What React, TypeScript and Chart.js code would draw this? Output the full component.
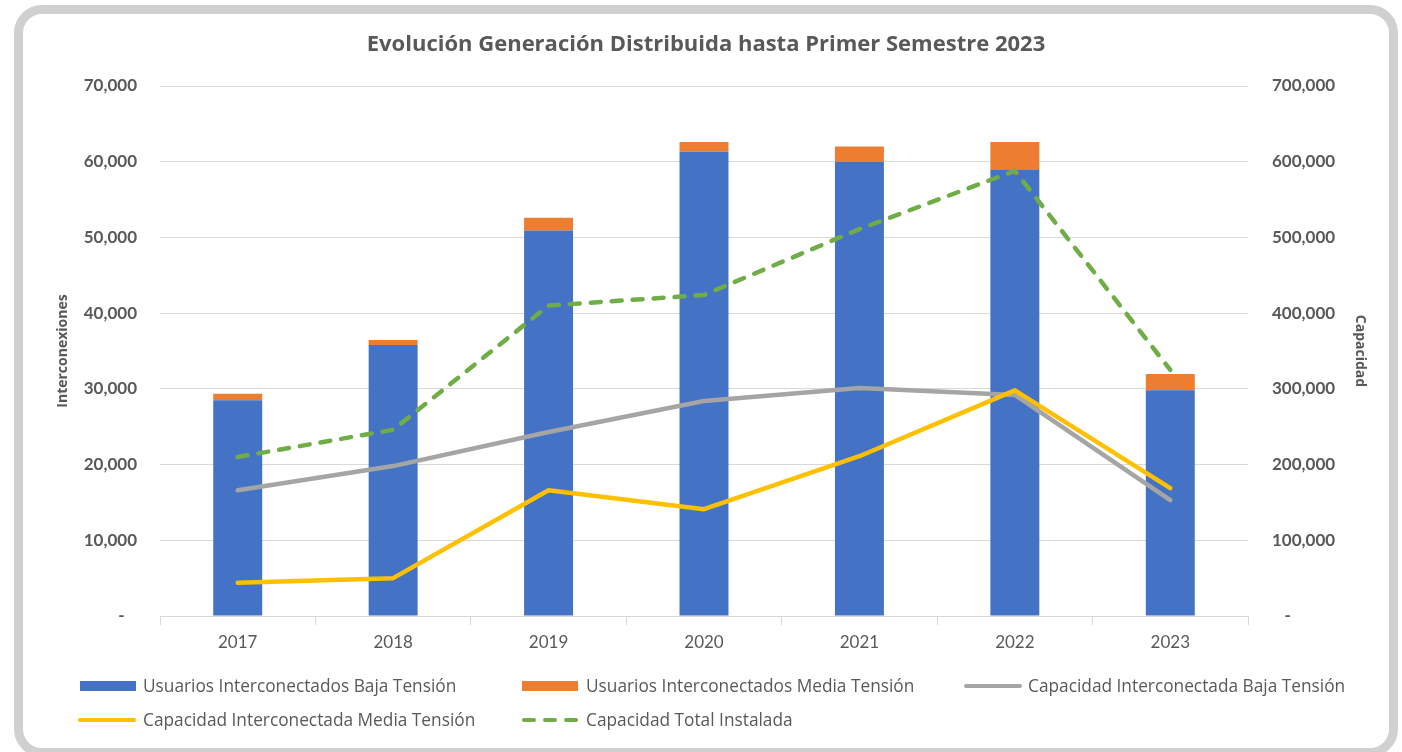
import React, { useEffect, useRef } from 'react';
import { Chart, registerables } from 'chart.js';

Chart.register(...registerables);

const years = ['2017', '2018', '2019', '2020', '2021', '2022', '2023'];
const usuariosBT = [28500, 35800, 50900, 61300, 60000, 58900, 29800];
const usuariosMT = [850, 650, 1700, 1300, 2000, 3700, 2150];
const capacidadBT = [166000, 198000, 243000, 284000, 301000, 292000, 153000];
const capacidadMT = [44000, 50000, 166000, 141000, 211000, 298000, 169000];
const capacidadTotal = [210000, 246000, 410000, 424000, 511000, 588000, 325000];

const seriesNames = [
  'Usuarios Interconectados Baja Tensión',
  'Usuarios Interconectados Media Tensión',
  'Capacidad Interconectada Baja Tensión',
  'Capacidad Interconectada Media Tensión',
  'Capacidad Total Instalada',
];
const seriesColors = ['#4472C4', '#ED7D31', '#A5A5A5', '#FFC000', '#70AD47'];

const titleText = 'Evolución Generación Distribuida hasta Primer Semestre 2023';
const leftAxisTitle = 'Interconexiones';
const rightAxisTitle = 'Capacidad';

const TEXT = '#595959';
const GRID = '#D9D9D9';

const fmt = (v: number) => v.toLocaleString('en-US');

export default function App() {
  const ref = useRef<HTMLCanvasElement>(null);

  useEffect(() => {
    if (!ref.current) return;
    const chart = new Chart(ref.current, {
      type: 'bar',
      data: {
        labels: years,
        datasets: [
          {
            type: 'bar',
            label: seriesNames[0],
            data: usuariosBT,
            backgroundColor: seriesColors[0],
            yAxisID: 'y',
            stack: 'u',
            order: 3,
            barPercentage: 0.315,
            categoryPercentage: 1,
          },
          {
            type: 'bar',
            label: seriesNames[1],
            data: usuariosMT,
            backgroundColor: seriesColors[1],
            yAxisID: 'y',
            stack: 'u',
            order: 3,
            barPercentage: 0.315,
            categoryPercentage: 1,
          },
          {
            type: 'line',
            label: seriesNames[2],
            data: capacidadBT,
            borderColor: seriesColors[2],
            backgroundColor: seriesColors[2],
            borderWidth: 4.5,
            pointRadius: 0,
            tension: 0,
            borderJoinStyle: 'round',
            borderCapStyle: 'round',
            yAxisID: 'y1',
            order: 2,
          },
          {
            type: 'line',
            label: seriesNames[3],
            data: capacidadMT,
            borderColor: seriesColors[3],
            backgroundColor: seriesColors[3],
            borderWidth: 4.5,
            pointRadius: 0,
            tension: 0,
            borderJoinStyle: 'round',
            borderCapStyle: 'round',
            yAxisID: 'y1',
            order: 1,
          },
          {
            type: 'line',
            label: seriesNames[4],
            data: capacidadTotal,
            borderColor: seriesColors[4],
            backgroundColor: seriesColors[4],
            borderWidth: 4.5,
            borderDash: [10, 11],
            pointRadius: 0,
            tension: 0,
            borderJoinStyle: 'round',
            borderCapStyle: 'round',
            yAxisID: 'y1',
            order: 0,
          },
        ],
      } as any,
      options: {
        animation: false,
        responsive: true,
        maintainAspectRatio: false,
        layout: { padding: { left: 30, right: 20, top: 0, bottom: 82 } },
        plugins: {
          legend: { display: false },
          tooltip: { enabled: false },
          title: {
            display: true,
            text: titleText,
            color: TEXT,
            font: { family: 'Open Sans', size: 22, weight: 'bold' },
            padding: { top: 31.8, bottom: 27.8 },
          },
        },
        scales: {
          x: {
            stacked: true,
            offset: true,
            grid: {
              offset: true,
              drawOnChartArea: false,
              drawTicks: true,
              tickLength: 9,
              color: GRID,
              lineWidth: 1,
            },
            border: { display: true, color: GRID, width: 1 },
            ticks: {
              color: TEXT,
              font: { family: 'Lato', size: 17 },
              padding: 7,
              maxRotation: 0,
            },
            afterFit: (s: any) => {
              s.height = 54;
            },
          },
          y: {
            position: 'left',
            stacked: true,
            min: 0,
            max: 70000,
            ticks: {
              stepSize: 10000,
              color: TEXT,
              font: { family: 'Lato', size: 17, weight: 'bold' },
              padding: 23,
              callback: (v: any) => (Number(v) === 0 ? '-   ' : fmt(Number(v))),
            },
            grid: { color: GRID, drawTicks: false, lineWidth: 1 },
            border: { display: false },
            title: {
              display: true,
              text: leftAxisTitle,
              color: TEXT,
              font: { family: 'Open Sans', size: 14, weight: 'bold' },
              padding: { top: 25, bottom: 0 },
            },
            afterFit: (s: any) => {
              s.width = 130;
            },
          },
          y1: {
            position: 'right',
            stacked: false,
            min: 0,
            max: 700000,
            ticks: {
              stepSize: 100000,
              color: TEXT,
              font: { family: 'Lato', size: 17, weight: 'bold' },
              padding: 24,
              callback: (v: any) => (Number(v) === 0 ? '   -' : fmt(Number(v))),
            },
            grid: { display: false, drawTicks: false },
            border: { display: false },
            title: {
              display: true,
              text: rightAxisTitle,
              color: TEXT,
              font: { family: 'Open Sans', size: 14, weight: 'bold' },
              padding: { top: 13.6, bottom: 0 },
            },
            afterFit: (s: any) => {
              s.width = 134;
            },
          },
        },
      } as any,
    });
    return () => chart.destroy();
  }, []);

  const legendText: React.CSSProperties = {
    position: 'absolute',
    fontFamily: 'Open Sans',
    fontSize: 17.3,
    lineHeight: '22px',
    color: TEXT,
    whiteSpace: 'nowrap',
  };

  const lineSwatch = (x: number, cy: number, w: number, color: string) => (
    <div
      style={{
        position: 'absolute',
        left: x,
        top: cy - 2.25,
        width: w,
        height: 4.5,
        borderRadius: 2.25,
        background: color,
      }}
    />
  );

  const dashSwatch = (x: number, cy: number, color: string) => (
    <>
      {[0, 21, 42].map((dx) => (
        <div
          key={dx}
          style={{
            position: 'absolute',
            left: x + dx,
            top: cy - 2.25,
            width: 14,
            height: 4.5,
            borderRadius: 2.25,
            background: color,
          }}
        />
      ))}
    </>
  );

  const boxSwatch = (x: number, cy: number, color: string) => (
    <div
      style={{
        position: 'absolute',
        left: x,
        top: cy - 5,
        width: 56,
        height: 10,
        background: color,
      }}
    />
  );

  const r1 = 686;
  const r2 = 720;

  return (
    <div
      style={{
        position: 'fixed',
        left: 0,
        top: 0,
        width: 1402,
        height: 752,
        background: '#FFFFFF',
        overflow: 'hidden',
      }}
    >
      <div
        style={{
          position: 'absolute',
          left: 14,
          top: 5,
          width: 1384,
          height: 752,
          border: '9px solid #D0D0D0',
          borderRadius: 28,
          boxSizing: 'border-box',
        }}
      />
      <div style={{ position: 'absolute', left: 0, top: 0, width: 1402, height: 752 }}>
        <canvas ref={ref} />
      </div>

      {boxSwatch(80, r1, seriesColors[0])}
      <span style={{ ...legendText, left: 143, top: r1 - 11 }}>{seriesNames[0]}</span>

      {boxSwatch(522, r1, seriesColors[1])}
      <span style={{ ...legendText, left: 586, top: r1 - 11 }}>{seriesNames[1]}</span>

      {lineSwatch(964, r1, 58, seriesColors[2])}
      <span style={{ ...legendText, left: 1028, top: r1 - 11 }}>{seriesNames[2]}</span>

      {lineSwatch(78, r2, 58, seriesColors[3])}
      <span style={{ ...legendText, left: 143, top: r2 - 11 }}>{seriesNames[3]}</span>

      {dashSwatch(522, r2, seriesColors[4])}
      <span style={{ ...legendText, left: 586, top: r2 - 11 }}>{seriesNames[4]}</span>
    </div>
  );
}
